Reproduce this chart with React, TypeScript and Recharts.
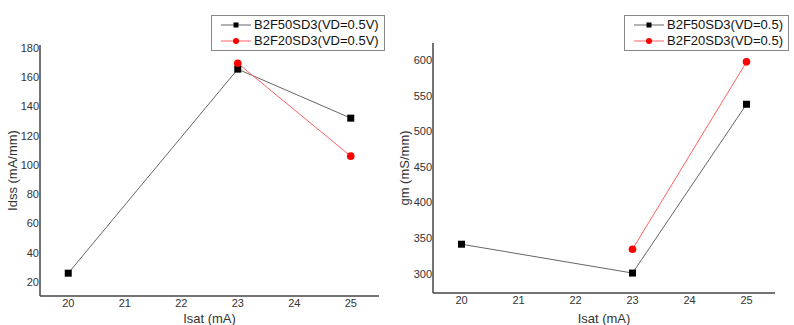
import { LineChart, Line, XAxis, YAxis, Legend } from 'recharts'

// Isat sweep (mA)
const isatAll = [20, 23, 25]
const isatB2F20 = [23, 25]

// Idss (mA/mm)
const idssB2F50 = [26, 165.5, 132]
const idssB2F20 = [169.5, 106]

// gm (mS/mm)
const gmB2F50 = [341.5, 301, 538]
const gmB2F20 = [334.5, 597.5]

const xTicks = [20, 21, 22, 23, 24, 25]
const idssTicks = [20, 40, 60, 80, 100, 120, 140, 160, 180]
const gmTicks = [300, 350, 400, 450, 500, 550, 600]

const legendLeft = ['B2F50SD3(VD=0.5V)', 'B2F20SD3(VD=0.5V)']
const legendRight = ['B2F50SD3(VD=0.5)', 'B2F20SD3(VD=0.5)']

const FONT = '"Liberation Sans", Arial, sans-serif'
const AXIS = '#444'
const BLACK_LINE = '#666'
const RED_LINE = '#ff6060'

const pts = (xs: number[], ys: number[]) => xs.map((x, i) => ({ x, y: ys[i] }))

function SquareDot(props: any) {
  const { cx, cy } = props
  if (cx == null || cy == null) return null
  return <rect key={`s-${cx}`} x={cx - 3.5} y={cy - 3.5} width={7} height={7} fill="#000" />
}

function RoundDot(props: any) {
  const { cx, cy } = props
  if (cx == null || cy == null) return null
  return <circle key={`c-${cx}`} cx={cx} cy={cy} r={3.8} fill="#ff0000" />
}

const yTitle = (text: string) => (props: any) => {
  const vb = props.viewBox || {}
  const cx = 12.5
  const cy = vb.y + vb.height / 2
  return (
    <text
      x={cx}
      y={cy}
      transform={`rotate(-90 ${cx} ${cy})`}
      textAnchor="middle"
      dominantBaseline="central"
      fontSize={13}
      fontFamily={FONT}
      fill="#333"
    >
      {text}
    </text>
  )
}

const legendBox = (labels: string[], textLeft: number) => () => (
  <div
    style={{
      border: '1px solid #888',
      background: '#fff',
      padding: '1px 5px 1px 0',
      fontFamily: FONT,
      fontSize: 13,
      color: '#111',
      lineHeight: '16px',
    }}
  >
    {labels.map((label, i) => (
      <div key={label} style={{ display: 'flex', alignItems: 'center', height: 16 }}>
        <svg width={textLeft} height={16} style={{ flex: 'none' }}>
          <line x1={9} x2={39} y1={8} y2={8} stroke={i === 0 ? BLACK_LINE : RED_LINE} strokeWidth={1} />
          {i === 0 ? <rect x={21.5} y={5.5} width={5} height={5} fill="#000" /> : <circle cx={24} cy={8} r={3} fill="#ff0000" />}
        </svg>
        <span>{label}</span>
      </div>
    ))}
  </div>
)

const tickStyle = { fontSize: 11, fill: '#333', fontFamily: FONT }

function Panel({
  width,
  top,
  right,
  bottom,
  yWidth,
  yDomain,
  yTicks,
  yLabel,
  s1,
  s2,
  labels,
  legendPos,
}: any) {
  return (
    <LineChart width={width} height={325} margin={{ top, right, bottom: 0, left: 0 }}>
      <XAxis
        type="number"
        dataKey="x"
        domain={[19.5, 25.5]}
        ticks={xTicks}
        allowDataOverflow
        height={bottom}
        tickLine={false}
        tickSize={0}
        tickMargin={3}
        tick={tickStyle}
        axisLine={{ stroke: AXIS, strokeWidth: 1.5 }}
        label={{ value: 'Isat (mA)', position: 'insideBottom', offset: 2, fontSize: 13, fill: '#333', fontFamily: FONT }}
      />
      <YAxis
        type="number"
        domain={yDomain}
        ticks={yTicks}
        allowDataOverflow
        width={yWidth}
        tickLine={false}
        tickSize={0}
        tickMargin={1}
        tick={tickStyle}
        axisLine={{ stroke: AXIS, strokeWidth: 1.5 }}
        label={yTitle(yLabel)}
      />
      <Legend
        layout="vertical"
        verticalAlign="middle"
        align="center"
        content={legendBox(labels, 42)}
        wrapperStyle={{ position: 'absolute', left: legendPos[0], top: legendPos[1], width: 'auto' }}
      />
      <Line
        data={s1}
        dataKey="y"
        name={labels[0]}
        stroke={BLACK_LINE}
        strokeWidth={1}
        dot={<SquareDot />}
        activeDot={false}
        isAnimationActive={false}
      />
      <Line
        data={s2}
        dataKey="y"
        name={labels[1]}
        stroke={RED_LINE}
        strokeWidth={1}
        dot={<RoundDot />}
        activeDot={false}
        isAnimationActive={false}
      />
    </LineChart>
  )
}

export default function App() {
  return (
    <div style={{ position: 'absolute', left: 0, top: 0, width: 794, height: 325, background: '#fff' }}>
      <div style={{ position: 'absolute', left: 0, top: 0 }}>
        <Panel
          width={392}
          top={45}
          right={13}
          bottom={29}
          yWidth={40}
          yDomain={[10.4, 182]}
          yTicks={idssTicks}
          yLabel="Idss (mA/mm)"
          s1={pts(isatAll, idssB2F50)}
          s2={pts(isatB2F20, idssB2F20)}
          labels={legendLeft}
          legendPos={[211, 15]}
        />
      </div>
      <div style={{ position: 'absolute', left: 392, top: 0 }}>
        <Panel
          width={402}
          top={43}
          right={19}
          bottom={32}
          yWidth={41}
          yDomain={[273, 624]}
          yTicks={gmTicks}
          yLabel="gm (mS/mm)"
          s1={pts(isatAll, gmB2F50)}
          s2={pts(isatB2F20, gmB2F20)}
          labels={legendRight}
          legendPos={[232, 15]}
        />
      </div>
    </div>
  )
}
